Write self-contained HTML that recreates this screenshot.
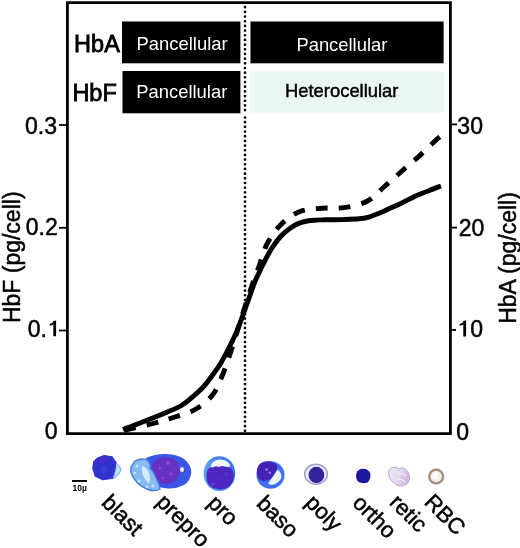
<!DOCTYPE html>
<html><head><meta charset="utf-8">
<style>
html,body{margin:0;padding:0;background:#fff;}
body{width:520px;height:548px;overflow:hidden;position:relative;}
svg{position:absolute;left:0;top:0;will-change:transform;}
text{font-family:"Liberation Sans",sans-serif;fill:#000;}
.k{stroke:#000;stroke-width:0.5;}
</style></head><body>
<svg width="520" height="548" viewBox="0 0 520 548">
<defs>
<filter id="soft" x="-20%" y="-20%" width="140%" height="140%"><feGaussianBlur stdDeviation="0.6"/></filter>
<linearGradient id="retg" x1="0" y1="0" x2="1" y2="0.3"><stop offset="0" stop-color="#f0e8f6"/><stop offset="0.55" stop-color="#e6d8f0"/><stop offset="1" stop-color="#d2b8e2"/></linearGradient>
<linearGradient id="prog" x1="0" y1="0" x2="1" y2="0"><stop offset="0" stop-color="#5ea6f2"/><stop offset="0.4" stop-color="#4a88ee"/><stop offset="1" stop-color="#3a70ea"/></linearGradient>
</defs>
<!-- frame -->
<path d="M67.4,433.6 V2.6 H450.4 V433.6 Z" fill="none" stroke="#000" stroke-width="2.8"/>
<!-- boxes -->
<rect x="122" y="21.5" width="118.4" height="41.8" fill="#000"/>
<rect x="250.5" y="21.5" width="193.1" height="41.8" fill="#000"/>
<rect x="122.5" y="71" width="117.9" height="42.3" fill="#000"/>
<rect x="250" y="71.5" width="194" height="41" fill="#e9f6f1"/>
<!-- dotted line -->
<line x1="245" y1="7.2" x2="245" y2="111" stroke="#000" stroke-width="2.7" stroke-dasharray="0.01 4.667" stroke-linecap="round"/>
<line x1="245" y1="117.5" x2="245" y2="431" stroke="#000" stroke-width="2.7" stroke-dasharray="0.01 4.667" stroke-linecap="round"/>
<!-- ticks -->
<g stroke="#000" stroke-width="1.8">
<line x1="59" y1="125" x2="67" y2="125"/>
<line x1="59" y1="227.8" x2="67" y2="227.8"/>
<line x1="59" y1="330.5" x2="67" y2="330.5"/>
<line x1="450" y1="124.4" x2="457" y2="124.4"/>
<line x1="450" y1="227.6" x2="457" y2="227.6"/>
<line x1="450" y1="330" x2="456" y2="330"/>
</g>
<!-- curves -->
<path d="M123.0,429.5 C125.8,428.4 133.0,425.8 140.0,423.0 C147.0,420.2 158.1,415.9 165.0,413.0 C171.9,410.1 176.6,408.4 181.5,405.5 C186.4,402.6 190.5,398.7 194.2,395.5 C197.9,392.3 200.6,390.0 203.8,386.4 C207.0,382.8 210.6,377.7 213.5,373.7 C216.4,369.7 218.4,367.1 221.2,362.4 C224.0,357.7 227.4,350.9 230.1,345.5 C232.8,340.1 234.9,335.9 237.3,330.1 C239.7,324.3 242.3,316.9 244.6,310.5 C246.9,304.1 249.4,296.8 251.2,291.9 C253.0,287.0 253.7,284.6 255.2,281.0 C256.7,277.4 258.6,273.6 260.3,270.0 C262.0,266.4 263.5,263.2 265.5,259.5 C267.5,255.8 269.6,251.5 272.3,247.5 C275.0,243.5 278.4,238.8 281.5,235.5 C284.6,232.2 287.9,229.7 290.8,227.7 C293.7,225.7 295.9,224.5 298.7,223.4 C301.4,222.3 304.4,221.6 307.3,221.0 C310.2,220.4 313.1,220.3 316.0,220.1 C318.9,219.9 320.3,219.9 324.6,219.8 C328.9,219.7 336.1,219.8 341.9,219.6 C347.7,219.4 354.9,219.2 359.2,218.8 C363.5,218.4 365.0,218.1 367.9,217.3 C370.8,216.5 373.6,215.3 376.5,214.2 C379.4,213.0 381.3,212.2 385.4,210.4 C389.4,208.6 395.7,205.9 400.8,203.5 C405.9,201.1 411.1,198.1 416.2,195.8 C421.3,193.5 427.4,191.2 431.5,189.6 C435.6,188.0 439.4,186.6 441.0,186.0" fill="none" stroke="#000" stroke-width="4.9" stroke-linejoin="round"/>
<path d="M123.0,430.5 C128.0,429.3 144.3,425.8 153.0,423.5 C161.7,421.2 167.8,419.4 175.0,417.0 C182.2,414.6 189.7,412.8 196.0,409.0 C202.3,405.2 208.5,400.2 212.9,394.5 C217.3,388.8 219.8,381.5 222.7,374.5 C225.6,367.5 228.0,359.9 230.5,352.6 C233.0,345.3 235.2,337.9 237.5,330.5 C239.8,323.1 242.1,315.4 244.5,308.0 C246.9,300.6 249.3,293.2 251.8,286.0 C254.3,278.8 257.0,272.0 259.5,265.0 C262.0,258.0 263.5,250.7 267.0,244.0 C270.5,237.3 275.2,230.3 280.5,225.0 C285.8,219.7 292.0,214.8 298.8,212.0 C305.6,209.2 314.0,209.0 321.5,208.3 C329.0,207.6 336.5,208.8 344.0,207.7 C351.5,206.6 359.8,204.9 366.5,201.5 C373.2,198.1 378.2,192.0 384.0,187.0 C389.8,182.0 395.6,176.6 401.4,171.5 C407.2,166.4 413.1,161.6 418.7,156.5 C424.3,151.4 431.6,144.2 435.2,140.8 C438.8,137.4 439.6,137.1 440.5,136.3" fill="none" stroke="#000" stroke-width="4.9" stroke-dasharray="11.8 11.12" stroke-dashoffset="-1.25"/>
<!-- box labels -->
<text class="k" x="74.1" y="52.4" font-size="23.5" style="stroke-width:0.8">HbA</text>
<text class="k" x="72.4" y="100.8" font-size="23.5" style="stroke-width:0.8">HbF</text>
<text x="136.6" y="50.3" font-size="18.4" style="fill:#fff">Pancellular</text>
<text x="296.4" y="50.6" font-size="18.4" style="fill:#fff">Pancellular</text>
<text x="136.3" y="97.5" font-size="18.4" style="fill:#fff">Pancellular</text>
<text x="285" y="97.3" font-size="18.4" style="stroke:#000;stroke-width:0.45">Heterocellular</text>
<!-- tick labels -->
<g font-size="24" class="k">
<text class="k" transform="translate(25.04,134.1) scale(0.96,1)">0.3</text>
<text class="k" transform="translate(25.74,235) scale(0.96,1)">0.2</text>
<text class="k" transform="translate(27.74,336.7) scale(0.96,1)">0.</text>
<text class="k" transform="translate(44.64,439.3) scale(0.96,1)">0</text>
<text class="k" transform="translate(457.34,134.1) scale(0.96,1)">30</text>
<text class="k" transform="translate(458.64,235.6) scale(0.96,1)">20</text>
<text class="k" transform="translate(470.24,337.2) scale(0.96,1)">0</text>
<text class="k" transform="translate(456.34,439.8) scale(0.96,1)">0</text>
</g>
<path d="M53.3,336.3 V321.0 L56.1,320.4 V336.3 Z" fill="#000"/><path d="M53.9,320.79999999999995 Q52.7,323.59999999999997 49.6,324.0 V325.59999999999997 Q52.5,325.59999999999997 53.6,324.29999999999995 Z" fill="#000"/>
<path d="M463.3,336.6 V320.90000000000003 L466.1,320.3 V336.6 Z" fill="#000"/><path d="M463.9,320.7 Q462.7,323.5 459.6,323.90000000000003 V325.5 Q462.5,325.5 463.6,324.2 Z" fill="#000"/>
<!-- axis titles -->
<text class="k" transform="translate(20.2,323.1) rotate(-90)" font-size="23">HbF (pg/cell)</text>
<text class="k" transform="translate(516,323.8) rotate(-90)" font-size="23">HbA (pg/cell)</text>
<!-- cells -->
<g filter="url(#soft)">
<!-- blast -->
<path d="M115.8,462.4 L120.2,467.5 L120.9,470.5 L118,474.9 L113.5,478.8 L115,469 Z" fill="#b8e0f6" stroke="#6a9aea" stroke-width="0.9" stroke-linejoin="round"/>
<path d="M97.5,458 L104.1,455.5 L112.1,456.9 L115.8,462.4 L115,469 L112.1,478.5 L102.6,479.6 L95.3,476.3 L92.8,468.3 L93.8,461.7 Z" fill="#3232d0" stroke="#3232d0" stroke-width="1.2" stroke-linejoin="round"/>
<ellipse cx="103" cy="459.5" rx="6" ry="3" fill="#4a2cc0" opacity="0.6"/>
<ellipse cx="104" cy="470" rx="3" ry="4" fill="#4444e0" opacity="0.6"/>
<!-- prepro body -->
<path d="M146,458 Q156,453.5 166.4,454 Q178,454.5 184,459 Q191.5,465 191.3,472.5 Q190.5,481 184,485 Q176,489 168,488.5 Q160,488 155,485 L146,470 Z" fill="#3b55e4"/>
<ellipse cx="165.5" cy="470.5" rx="14.5" ry="13.5" fill="#6630c4"/>
<circle cx="168" cy="463" r="2" fill="#a050d8" opacity="0.7"/>
<circle cx="160" cy="468" r="1.6" fill="#a050d8" opacity="0.6"/>
<circle cx="171" cy="474" r="1.8" fill="#a050d8" opacity="0.6"/>
<circle cx="163" cy="478" r="1.5" fill="#9848d0" opacity="0.6"/>
<ellipse cx="182" cy="469.5" rx="2" ry="2.6" fill="#f4f0ff"/>
<!-- prepro frilly -->
<path d="M135,461 Q141,457.5 147,460 Q151,463 150,468 Q154,472 156,478 Q159,483 160,489 Q155,492 148,489.5 Q140,486.5 135,480 Q130,474 131,467 Z" fill="#88bcf0" stroke="#4a7ee6" stroke-width="1.4"/>
<path d="M142,466 Q147,467 149,473 Q151,479 149,483 Q145,481 143,475 Q141,470 142,466 Z" fill="#d0ecfc"/>
<circle cx="137" cy="466" r="1.5" fill="#c8e6fa"/>
<circle cx="134.5" cy="473" r="1.3" fill="#c8e6fa"/>
<circle cx="139" cy="481" r="1.4" fill="#c8e6fa"/>
<circle cx="153" cy="486" r="1.4" fill="#c8e6fa"/>
<circle cx="147" cy="487" r="1.2" fill="#c8e6fa"/>
<!-- pro -->
<ellipse cx="219.4" cy="473.6" rx="15.9" ry="17.4" fill="url(#prog)"/>
<path d="M206.5,474 Q207,468 212,467 Q215,465.5 218,466.5 Q221,465 224,466.5 Q228,466 231,468.5 Q234,472 233.6,478 Q232,486 225,488.5 Q219,490 213,488 Q207,485 206.5,478 Z" fill="#5026c2"/>
<path d="M210.5,467 Q212,461 217,460 Q220,459 223,460 Q228,460.5 230.5,466 Q228,467.5 225,466.5 Q222,465.5 219,467 Q216,465.5 213,467.5 Z" fill="#f2f6ff"/>
<circle cx="213" cy="484" r="2" fill="#8a44d8" opacity="0.55"/>
<circle cx="226" cy="474" r="1.7" fill="#7a3ad0" opacity="0.5"/>
<circle cx="219" cy="479" r="1.5" fill="#6a34cc" opacity="0.5"/>
<!-- baso -->
<ellipse cx="270.5" cy="475" rx="14" ry="13.7" fill="#3c70f0"/>
<path d="M256.8,473 Q256.5,463 265,461.5 Q274,460.5 277.5,466 Q277,473 272,478 Q266,482 261,480.5 Q257,478 256.8,473 Z" fill="#4420b6"/>
<path d="M268,483.5 Q272,478 277.5,469.5 Q281.5,472 281.5,477.5 Q279,483.5 272,485 Z" fill="#eaf6ff"/>
<circle cx="266.5" cy="469.5" r="1.3" fill="#a878f0"/>
<circle cx="269.8" cy="472.8" r="1.2" fill="#a878f0"/>
<!-- poly -->
<ellipse cx="316" cy="474.2" rx="11.3" ry="10" fill="#eceef8" stroke="#a0a2cc" stroke-width="1.6"/>
<ellipse cx="316.4" cy="474.9" rx="7.9" ry="8.1" fill="#30229c"/>
<!-- ortho -->
<ellipse cx="363" cy="475.5" rx="10" ry="10.5" fill="#fefaf8"/>
<path d="M356.5,473 Q358,469 363,468.8 Q368.5,469 370.3,473.5 Q371,479 367.5,482.5 Q363,484 358.5,482 Q355,478.5 356.5,473 Z" fill="#1c169e"/>
<!-- retic -->
<path d="M388.7,471.4 Q389.5,468.5 391.2,468 Q394,467 396.4,467.5 Q398.5,468.6 399.9,468.8 Q401.5,467.6 403.4,468 Q405.5,468.8 406.8,470.6 Q409,473 409.4,475.8 Q410,479 409,481 Q408,483.5 406,484.4 Q403.5,486 400.8,486.1 Q398,486 395.6,484.4 Q393,482.5 391.2,480.1 Q389,477.5 389.1,475.8 Q388.3,473.5 388.7,471.4 Z" fill="url(#retg)" stroke="#bca6d0" stroke-width="1"/>
<path d="M398,474 Q402,472 406,476 M397,479 Q401,478 405,482" stroke="#f4ecf8" stroke-width="1.2" fill="none"/>
<!-- rbc -->
<circle cx="436.2" cy="476.5" r="6.9" fill="#f2f0ec" stroke="#a48e7e" stroke-width="2.4"/>
<circle cx="435.5" cy="476" r="3" fill="#fbfbf8"/>
</g>
<!-- scale bar -->
<rect x="72" y="480" width="15" height="2" fill="#000"/>
<text x="72.5" y="490.8" font-size="8.5" font-weight="bold">10µ</text>
<!-- bottom labels -->
<g font-size="22.2" class="k">
<text class="k" transform="translate(100.60,503.70) rotate(45)">blast</text>
<text class="k" transform="translate(155.35,503.15) rotate(45)">prepro</text>
<text class="k" transform="translate(206.40,504.15) rotate(45)">pro</text>
<text class="k" transform="translate(255.45,504.65) rotate(45)">baso</text>
<text class="k" transform="translate(304.15,503.80) rotate(45)">poly</text>
<text class="k" transform="translate(351.40,504.00) rotate(45)">ortho</text>
<text class="k" transform="translate(388.40,503.60) rotate(45)">retic</text>
<text class="k" transform="translate(423.25,503.30) rotate(45)">RBC</text>
</g>
</svg>
</body></html>
